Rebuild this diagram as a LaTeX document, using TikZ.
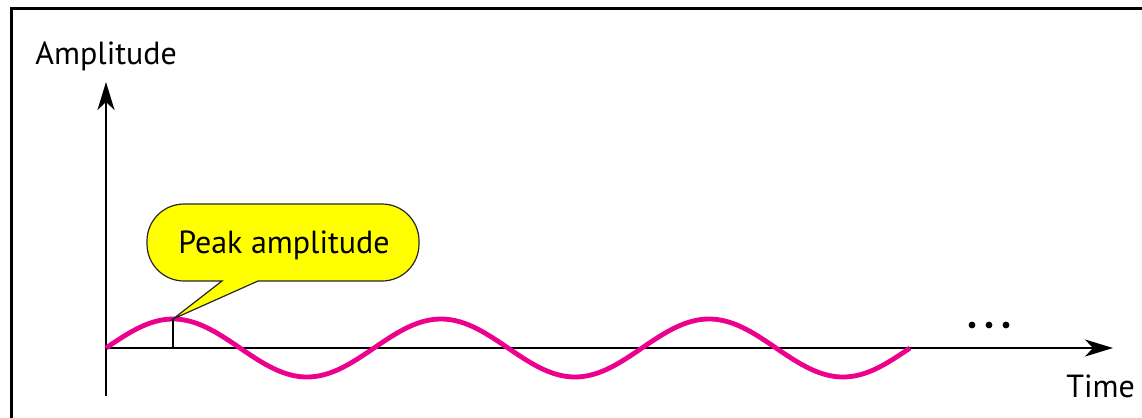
\documentclass[tikz,border=0pt]{standalone}
\usepackage{fontspec}
\setmainfont{PT Sans}
\usetikzlibrary{arrows.meta}
\definecolor{wave}{HTML}{EC008C}
\definecolor{callyellow}{HTML}{FFFF00}
\tikzset{
  axis/.style={line width=1pt, -{Stealth[length=14pt, width=8.5pt, inset=4pt]}},
  wavecurve/.style={line width=2.4pt, draw=wave},
  lbl/.style={font=\fontsize{16}{19}\selectfont, inner sep=0pt},
  frameline/.style={line width=1.5pt},
  callout/.style={fill=callyellow, draw=black!85, line width=0.6pt},
  dot/.style={circle, fill=black, inner sep=0pt, minimum size=3.4pt}
}
\begin{document}
\begin{tikzpicture}[x=0.5pt, y=-0.5pt]
\useasboundingbox (0,0) rectangle (1142,418);
% frame
\coordinate (fbl) at (11,418);
\coordinate (ftl) at (11,8);
\coordinate (ftr) at (1142,8);
\draw[frameline] (fbl) -- (ftl) -- (ftr);
% axes
\coordinate (O) at (106,348);
\coordinate (ybot) at (106,396);
\coordinate (ytip) at (106,82);
\coordinate (xtip) at (1113,348);
\draw[axis] (ybot) -- (ytip);
\draw[axis] (O) -- (xtip);
% wave
\draw[wavecurve] plot[domain=0:804, samples=240] ({106+\x}, {348-29*sin(1.343284*\x)});
% peak marker
\coordinate (P) at (173,319);
\coordinate (Pfoot) at (173,348);
\draw[line width=1pt] (Pfoot) -- (P);
% callout
\draw[callout] (P) -- (258,281) [rounded corners=18.5pt] -- (419,281) -- (419,204) -- (147,204) -- (147,281) [sharp corners] -- (222,281) -- cycle;
\node[lbl, anchor=base] (peak) at (284,253) {Peak amplitude};
% labels
\node[lbl, anchor=base west] (amp) at (35,64) {Amplitude};
\node[lbl, anchor=base west] (time) at (1066,397) {Time};
% dots
\node[dot] (d1) at (972,325) {};
\node[dot] (d2) at (989,325) {};
\node[dot] (d3) at (1006,325) {};
\end{tikzpicture}
\end{document}
